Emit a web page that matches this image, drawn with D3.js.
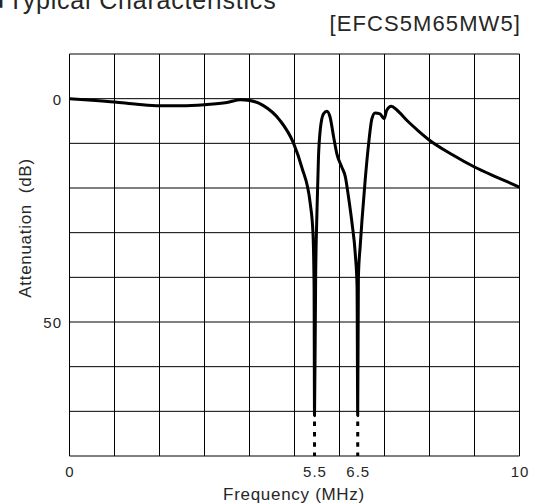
<!DOCTYPE html>
<html><head><meta charset="utf-8">
<script src="https://cdn.jsdelivr.net/npm/d3@7"></script>
<style>
body{margin:0;background:#fff}
svg{display:block}
text{font-family:"Liberation Sans",Arial,Helvetica,sans-serif;fill:#262626}
</style>
</head><body>
<svg id="chart" width="538" height="503"></svg>
<script>
// ---- data ----
const freq  = [0, 0.5, 1, 1.5, 2, 2.5, 3, 3.5, 3.8, 4.0, 4.3, 4.68, 4.98, 5.16, 5.35, 5.41, 5.435, 5.445,
               5.47, 5.5, 5.533, 5.571, 5.644, 5.72, 5.79, 5.87, 5.94, 6.05, 6.13, 6.2, 6.28, 6.35, 6.39, 6.405,
               6.42, 6.46, 6.5, 6.57, 6.64, 6.72, 6.79, 6.9, 6.99, 7.05, 7.15, 7.28, 7.5, 7.75, 8.0, 8.5, 9.0, 9.5, 10];
const atten = [0, 0.35, 0.75, 1.25, 1.6, 1.6, 1.35, 0.85, 0.25, 0.4, 1.5, 4.9, 10, 15.3, 23.5, 30, 42, 71,
               40, 25, 13, 7.1, 3.4, 2.8, 4.1, 8.6, 12.3, 15.3, 17.5, 22, 28, 34.7, 42, 71,
               40, 33, 27.2, 18.3, 10.8, 4.5, 3.2, 3.4, 4.5, 2.6, 1.7, 2.6, 4.9, 7.2, 9.3, 12.5, 15.3, 17.6, 19.8];
const dipFreqs = [5.445, 6.405];          // notch frequencies (dotted continuation)
const dipLimit = [71, 80];                // solid curve ends, dotted to bottom
const xTickValues = [0, 5.445, 6.405, 10];
const xTickLabels = ["0", "5.5", "6.5", "10"];
const yTickValues = [0, 50];
const yTickLabels = ["0", "50"];
const xGridValues = [0, 1, 2, 3, 4, 5, 6, 7, 8, 9, 10];
const yGridValues = [-10, 0, 10, 20, 30, 40, 50, 60, 70, 80];
const titleText = "Typical Characteristics";
const modelText = "[EFCS5M65MW5]";
const xLabel = "Frequency (MHz)";
const yLabel = "Attenuation\u00a0 (dB)";

// ---- chart ----
const svg = d3.select("#chart");
const x = d3.scaleLinear().domain([0, 10]).range([69.5, 519.5]);
const y = d3.scaleLinear().domain([-10, 80]).range([54, 456]);

// grid
const grid = svg.append("g").attr("stroke", "#000").attr("stroke-width", 1);
grid.selectAll("line.v").data(xGridValues).join("line").attr("class", "v")
  .attr("x1", d => x(d)).attr("x2", d => x(d)).attr("y1", y(-10)).attr("y2", y(80));
grid.selectAll("line.h").data(yGridValues).join("line").attr("class", "h")
  .attr("x1", x(0)).attr("x2", x(10)).attr("y1", d => y(d)).attr("y2", d => y(d));

// curve
const pts = freq.map((f, i) => [f, atten[i]]);
const line = d3.line().x(d => x(d[0])).y(d => y(d[1])).curve(d3.curveMonotoneX);
svg.append("path").datum(pts).attr("d", line)
  .attr("fill", "none").attr("stroke", "#000").attr("stroke-width", 3)
  .attr("stroke-linejoin", "round");

// dotted continuations
svg.selectAll("line.dip").data(dipFreqs).join("line").attr("class", "dip")
  .attr("x1", d => x(d)).attr("x2", d => x(d))
  .attr("y1", y(dipLimit[0])).attr("y2", y(dipLimit[1]))
  .attr("stroke", "#000").attr("stroke-width", 3)
  .attr("stroke-dasharray", "4.5,5.8").attr("stroke-dashoffset", 4.5);

// x axis labels
const xAxis = d3.axisBottom(x).tickValues(xTickValues).tickSize(0)
  .tickFormat((d, i) => xTickLabels[i]);
const gx = svg.append("g").call(xAxis);
gx.select(".domain").remove();
gx.attr("font-family", null).attr("font-size", null);
gx.selectAll("text").attr("y", 477).attr("dy", null)
  .style("font-size", "15px").style("letter-spacing", "1px").attr("fill", "#262626");

// y axis labels
const yAxis = d3.axisLeft(y).tickValues(yTickValues).tickSize(0)
  .tickFormat((d, i) => yTickLabels[i]);
const gy = svg.append("g").call(yAxis);
gy.select(".domain").remove();
gy.attr("font-family", null).attr("font-size", null);
gy.selectAll("text").attr("x", 62).attr("dy", "0.36em")
  .style("font-size", "15px").style("letter-spacing", "1px").attr("fill", "#262626");

// axis titles
svg.append("text").attr("x", 294).attr("y", 500).attr("text-anchor", "middle")
  .style("font-size", "17px").style("letter-spacing", "0.7px").text(xLabel);
svg.append("text").attr("transform", "translate(31,228) rotate(-90)").attr("text-anchor", "middle")
  .style("font-size", "17px").style("letter-spacing", "0.7px").text(yLabel);

// header texts (title is cropped at the top edge as in the reference)
svg.append("text").attr("x", 3.5).attr("y", 8.5).attr("text-anchor", "end")
  .style("font-size", "25px").text("\u25A0");
svg.append("text").attr("x", 8).attr("y", 8.5)
  .style("font-size", "25px").style("letter-spacing", "0.8px").text(titleText);
svg.append("text").attr("x", 521).attr("y", 31).attr("text-anchor", "end")
  .style("font-size", "22px").style("letter-spacing", "1.1px").text(modelText);
</script>
</body></html>
